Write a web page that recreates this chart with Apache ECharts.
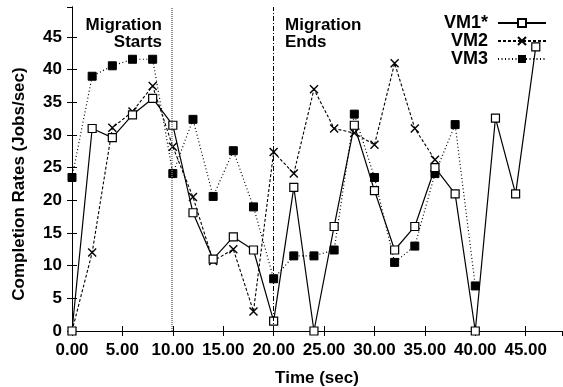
<!DOCTYPE html>
<html>
<head>
<meta charset="utf-8">
<script src="https://cdn.jsdelivr.net/npm/echarts@6/dist/echarts.min.js"></script>
<style>
  html, body { margin: 0; padding: 0; background: #fff; }
  #chart { width: 563px; height: 387px; }
</style>
</head>
<body>
<div id="chart"></div>
<script>
// time points (sec)
const times = [0, 2, 4, 6, 8, 10, 12, 14, 16, 18, 20, 22, 24, 26, 28, 30, 32, 34, 36, 38, 40, 42, 44, 46];

// completion rates per VM (Jobs/sec)
const vm1 = [0, 31, 29.6, 33.1, 35.6, 31.5, 18.1, 11, 14.4, 12.4, 1.5, 22, 0, 16, 31.5, 21.5, 12.4, 16, 25, 21, 0, 32.6, 21, 43.5];
const vm2 = [0, 12, 31.1, 33.6, 37.5, 28.2, 20.5, 10.7, 12.5, 3, 27.4, 24.1, 37, 31, 30.3, 28.5, 41, 31, 26.2];
const vm3 = [23.5, 39, 40.6, 41.6, 41.6, 24.1, 32.4, 20.6, 27.6, 19, 8, 11.5, 11.5, 12.4, 33.2, 23.5, 10.5, 13, 24.1, 31.6, 6.9];

const seriesNames = ['VM1*', 'VM2', 'VM3'];
const migrationStart = 9.85;
const migrationEnd = 20;

const font = '"Liberation Sans", Arial, sans-serif';

function pairs(vals) {
    return vals.map((v, i) => [times[i], v]);
}

const chart = echarts.init(document.getElementById('chart'));

const labelStyle = { fontSize: 17, fontWeight: 'bold', fontFamily: font, fill: '#000' };

const option = {
    backgroundColor: '#fff',
    animation: false,
    textStyle: { fontFamily: font },
    grid: { left: 72, right: 1, top: 7, bottom: 56, containLabel: false, outerBoundsMode: 'none' },
    legend: {
        data: seriesNames,
        orient: 'vertical',
        right: 16,
        top: 14,
        align: 'right',
        itemWidth: 48,
        itemHeight: 10,
        itemGap: 0,
        padding: 0,
        textStyle: { fontSize: 18, fontWeight: 'bold', color: '#000', fontFamily: font, padding: [0, 5, 0, 0], lineHeight: 18 }
    },
    xAxis: [{
        type: 'value',
        min: 0,
        max: 48.6,
        interval: 5,
        name: 'Time (sec)',
        nameLocation: 'middle',
        nameGap: 39,
        nameTextStyle: { fontSize: 17, fontWeight: 'bold', color: '#000' },
        axisLine: { lineStyle: { color: '#000', width: 1 } },
        axisTick: { inside: true, length: 5, lineStyle: { color: '#000' } },
        axisLabel: {
            fontSize: 17, fontWeight: 'bold', color: '#000', margin: 11,
            showMaxLabel: false,
            formatter: v => v > 46 ? '' : v.toFixed(2)
        },
        splitLine: { show: false }
    }, {
        type: 'value',
        position: 'top',
        min: 0,
        max: 48.6,
        interval: 5,
        axisLine: { lineStyle: { color: '#000', width: 1 } },
        axisTick: { inside: true, length: 5, lineStyle: { color: '#000' } },
        axisLabel: { show: false },
        splitLine: { show: false }
    }],
    yAxis: [{
        type: 'value',
        min: 0,
        max: 49.6,
        interval: 5,
        name: 'Completion Rates (Jobs/sec)',
        nameLocation: 'middle',
        nameGap: 44,
        nameTextStyle: { fontSize: 17, fontWeight: 'bold', color: '#000', padding: [0, 30, 0, 0] },
        axisLine: { show: true, lineStyle: { color: '#000', width: 1 } },
        axisTick: { show: true, inside: true, length: 5, lineStyle: { color: '#000' } },
        axisLabel: {
            fontSize: 17, fontWeight: 'bold', color: '#000', margin: 10,
            showMaxLabel: false,
            formatter: v => v > 46 ? '' : String(v)
        },
        splitLine: { show: false }
    }, {
        type: 'value',
        position: 'right',
        min: 0,
        max: 49.6,
        interval: 5,
        axisLine: { show: true, lineStyle: { color: '#000', width: 1 } },
        axisTick: { show: true, inside: true, length: 5, lineStyle: { color: '#000' } },
        axisLabel: { show: false },
        splitLine: { show: false }
    }],
    graphic: [
        { type: 'text', right: 401, top: 17, style: Object.assign({ text: 'Migration', textAlign: 'right' }, labelStyle) },
        { type: 'text', right: 401, top: 34, style: Object.assign({ text: 'Starts', textAlign: 'right' }, labelStyle) },
        { type: 'text', left: 285, top: 17, style: Object.assign({ text: 'Migration' }, labelStyle) },
        { type: 'text', left: 285, top: 34, style: Object.assign({ text: 'Ends' }, labelStyle) }
    ],
    series: [{
        name: 'VM1*',
        type: 'line',
        data: pairs(vm1),
        clip: false,
        symbol: 'rect',
        symbolSize: 8,
        itemStyle: { color: '#fff', borderColor: '#000', borderWidth: 1.2 },
        lineStyle: { color: '#000', width: 1.2, type: 'solid' },
        markLine: {
            silent: true,
            symbol: 'none',
            label: { show: false },
            data: [
                { xAxis: migrationStart, lineStyle: { color: '#777', width: 1.5, type: [1, 1] } },
                { xAxis: migrationEnd, lineStyle: { color: '#000', width: 1, type: [5, 2, 1, 2] } }
            ]
        },
        z: 4
    }, {
        name: 'VM2',
        type: 'line',
        data: pairs(vm2),
        clip: false,
        symbol: 'path://M0,0L10,10M10,0L0,10',
        symbolSize: 8,
        itemStyle: { color: '#000', borderColor: '#000', borderWidth: 1.4 },
        lineStyle: { color: '#000', width: 1.1, type: [3, 2] },
        z: 3
    }, {
        name: 'VM3',
        type: 'line',
        data: pairs(vm3),
        clip: false,
        symbol: 'rect',
        symbolSize: 8,
        itemStyle: { color: '#000', borderColor: '#000' },
        lineStyle: { color: '#000', width: 1.2, type: [1, 2.5] },
        z: 2
    }]
};

chart.setOption(option);
</script>
</body>
</html>
